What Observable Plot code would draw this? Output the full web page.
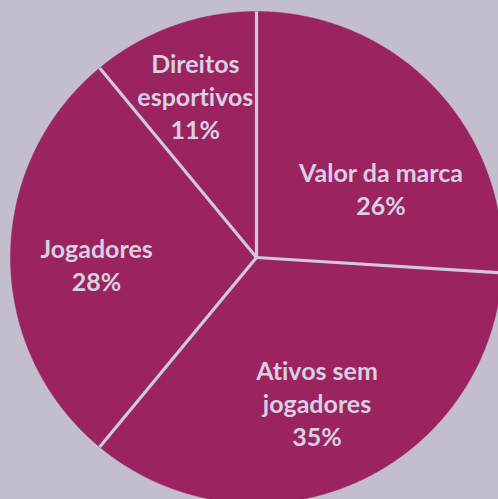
<!DOCTYPE html>
<html><head><meta charset="utf-8">
<script src="https://cdn.jsdelivr.net/npm/d3@7"></script>
<script src="https://cdn.jsdelivr.net/npm/@observablehq/plot@0.6"></script>
<style>html,body{margin:0;padding:0;overflow:hidden;background:#c4bdcf;width:498px;height:499px}
svg text{font-variant-ligatures:none;font-feature-settings:"liga" 0,"clig" 0}</style>
</head><body><div id="chart"></div>
<script>
const categories = ["Valor da marca", "Ativos sem jogadores", "Jogadores", "Direitos esportivos"];
const labels = ["Valor da marca", "Ativos sem\njogadores", "Jogadores", "Direitos\nesportivos"];
const values = [26, 35, 28, 11];

const W = 498, H = 499, cx = 256, cy = 257, R = 246;
const pie = d3.pie().sort(null).startAngle(0).endAngle(2 * Math.PI)(values);

const slicePts = [];
pie.forEach((p, i) => {
  slicePts.push({cat: categories[i], x: 0, y: 0});
  const n = Math.max(2, Math.ceil((p.endAngle - p.startAngle) / 0.004));
  for (let k = 0; k <= n; k++) {
    const a = p.startAngle + (p.endAngle - p.startAngle) * k / n;
    slicePts.push({cat: categories[i], x: Math.sin(a), y: Math.cos(a)});
  }
  slicePts.push({cat: categories[i], x: 0, y: 0});
});
const seps = pie.map(p => ({x: Math.sin(p.startAngle), y: Math.cos(p.startAngle)}));

// label layout: radial placement at mid-angle, with small pixel nudges
const nudge = {"Valor da marca": [8, 40], "Direitos esportivos": [-7, -12], "Jogadores": [0, 6], "Ativos sem jogadores": [-3, -2]};
const lr = 0.65;
const labelData = pie.map((p, i) => {
  const a = (p.startAngle + p.endAngle) / 2;
  const [nx, ny] = nudge[categories[i]] || [0, 0];
  return {
    x: lr * Math.sin(a) + nx / R,
    y: lr * Math.cos(a) - ny / R,
    text: labels[i] + "\n" + values[i] + "%"
  };
});

const chart = Plot.plot({
  width: W, height: H, margin: 0,
  x: {domain: [-cx / R, (W - cx) / R], axis: null},
  y: {domain: [-(H - cy) / R, cy / R], axis: null},
  style: {background: "transparent", overflow: "hidden"},
  marks: [
    Plot.line(slicePts, {x: "x", y: "y", z: "cat", fill: "#9a2360", stroke: "#9a2360", strokeWidth: 0.5, curve: "linear"}),
    Plot.link(seps, {x1: 0, y1: 0, x2: "x", y2: "y", stroke: "#d0c9da", strokeWidth: 3.2}),
    Plot.text(labelData, {x: "x", y: "y", text: "text", fill: "#d8d0e2", fontFamily: "Lato", fontWeight: "bold", fontSize: 25, lineHeight: 1.32, lineAnchor: "middle"})
  ]
});
document.getElementById("chart").appendChild(chart);
</script>
</body></html>
